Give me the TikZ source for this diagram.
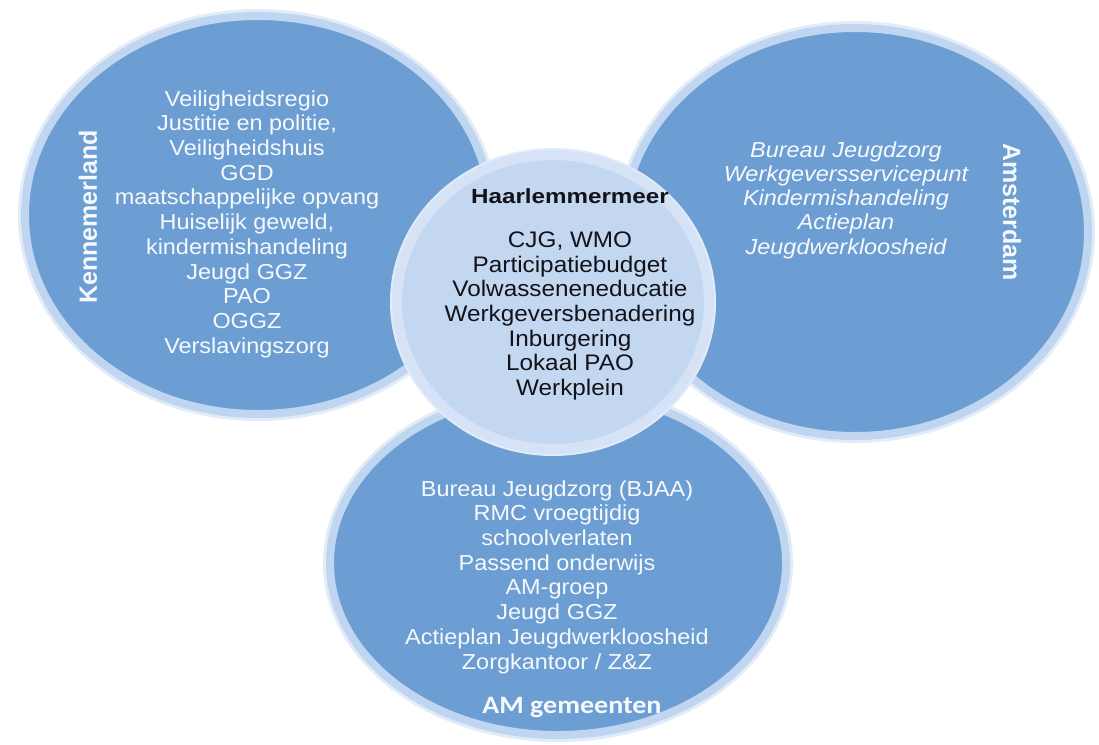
\documentclass[tikz,border=0pt]{standalone}
\usepackage{fontspec}
\setmainfont{Liberation Sans}
\newfontfamily\lstfont[FakeStretch=1.08]{Liberation Sans}
\newfontfamily\hfont[FakeStretch=1.18]{Liberation Sans}
\newfontfamily\amfont[FakeStretch=1.12]{Carlito}
\usetikzlibrary{shapes.geometric}
\definecolor{cblue}{RGB}{108,158,212}
\definecolor{cglow}{RGB}{192,213,240}
\definecolor{cglowout}{RGB}{226,236,249}
\definecolor{clight}{RGB}{196,215,240}
\definecolor{clightglow}{RGB}{214,227,246}
\definecolor{cwhite}{RGB}{246,249,252}
\definecolor{cdark}{RGB}{18,18,26}
\begin{document}
\begin{tikzpicture}[x=1pt,y=-1pt,
  bluecirc/.style={ellipse, inner sep=0pt, outer sep=0pt, fill=cblue,
    draw=cglow, line width=8pt, preaction={draw=cglowout, line width=14pt}},
  midcirc/.style={ellipse, inner sep=0pt, outer sep=0pt, fill=clight,
    draw=clightglow, line width=10pt, preaction={draw=cglowout, line width=14pt}},
  listtext/.style={align=center, text=cwhite, inner sep=0pt,
    font=\lstfont\fontsize{21.7}{24.7}\selectfont},
  midtext/.style={align=center, text=cdark, inner sep=0pt,
    font=\lstfont\fontsize{22.5}{24.7}\selectfont},
  sidelabel/.style={text=cwhite, inner sep=0pt,
    font=\bfseries\fontsize{25}{28}\selectfont}
]
\useasboundingbox[fill=white] (0,0) rectangle (1099,744);

% circles
\node[bluecirc, minimum width=466pt, minimum height=398pt] (ken) at (258,215) {};
\node[bluecirc, minimum width=466pt, minimum height=408pt] (ams) at (855,232) {};
\node[bluecirc, minimum width=456pt, minimum height=344pt] (amg) at (558,563) {};
\node[midcirc, minimum width=312pt, minimum height=294pt] (hlm) at (553,302) {};

% Kennemerland
\node[sidelabel, rotate=90] (kenlabel) at (88,217) {Kennemerland};
\node[listtext] (kenlist) at (247,224) {Veiligheidsregio\\Justitie en politie,\\Veiligheidshuis\\GGD\\maatschappelijke opvang\\Huiselijk geweld,\\kindermishandeling\\Jeugd GGZ\\PAO\\OGGZ\\Verslavingszorg};

% Amsterdam
\node[sidelabel, rotate=-90] (amslabel) at (1012,212) {Amsterdam};
\node[listtext, font=\lstfont\itshape\fontsize{21.7}{24.2}\selectfont] (amslist) at (846,200) {Bureau Jeugdzorg\\Werkgeversservicepunt\\Kindermishandeling\\Actieplan\\Jeugdwerkloosheid};

% Haarlemmermeer
\node[text=cdark, inner sep=0pt, font=\hfont\bfseries\fontsize{20.5}{24}\selectfont] (hlmlabel) at (570,196) {Haarlemmermeer};
\node[midtext] (hlmlist) at (570,316) {CJG, WMO\\Participatiebudget\\Volwasseneneducatie\\Werkgeversbenadering\\Inburgering\\Lokaal PAO\\Werkplein};

% AM gemeenten
\node[listtext] (amglist) at (557,577) {Bureau Jeugdzorg (BJAA)\\RMC vroegtijdig\\schoolverlaten\\Passend onderwijs\\AM-groep\\Jeugd GGZ\\Actieplan Jeugdwerkloosheid\\Zorgkantoor / Z\&Z};
\node[text=cwhite, inner sep=0pt, font=\amfont\bfseries\fontsize{25}{28}\selectfont] (amglabel) at (572,708) {AM gemeenten};
\end{tikzpicture}
\end{document}
